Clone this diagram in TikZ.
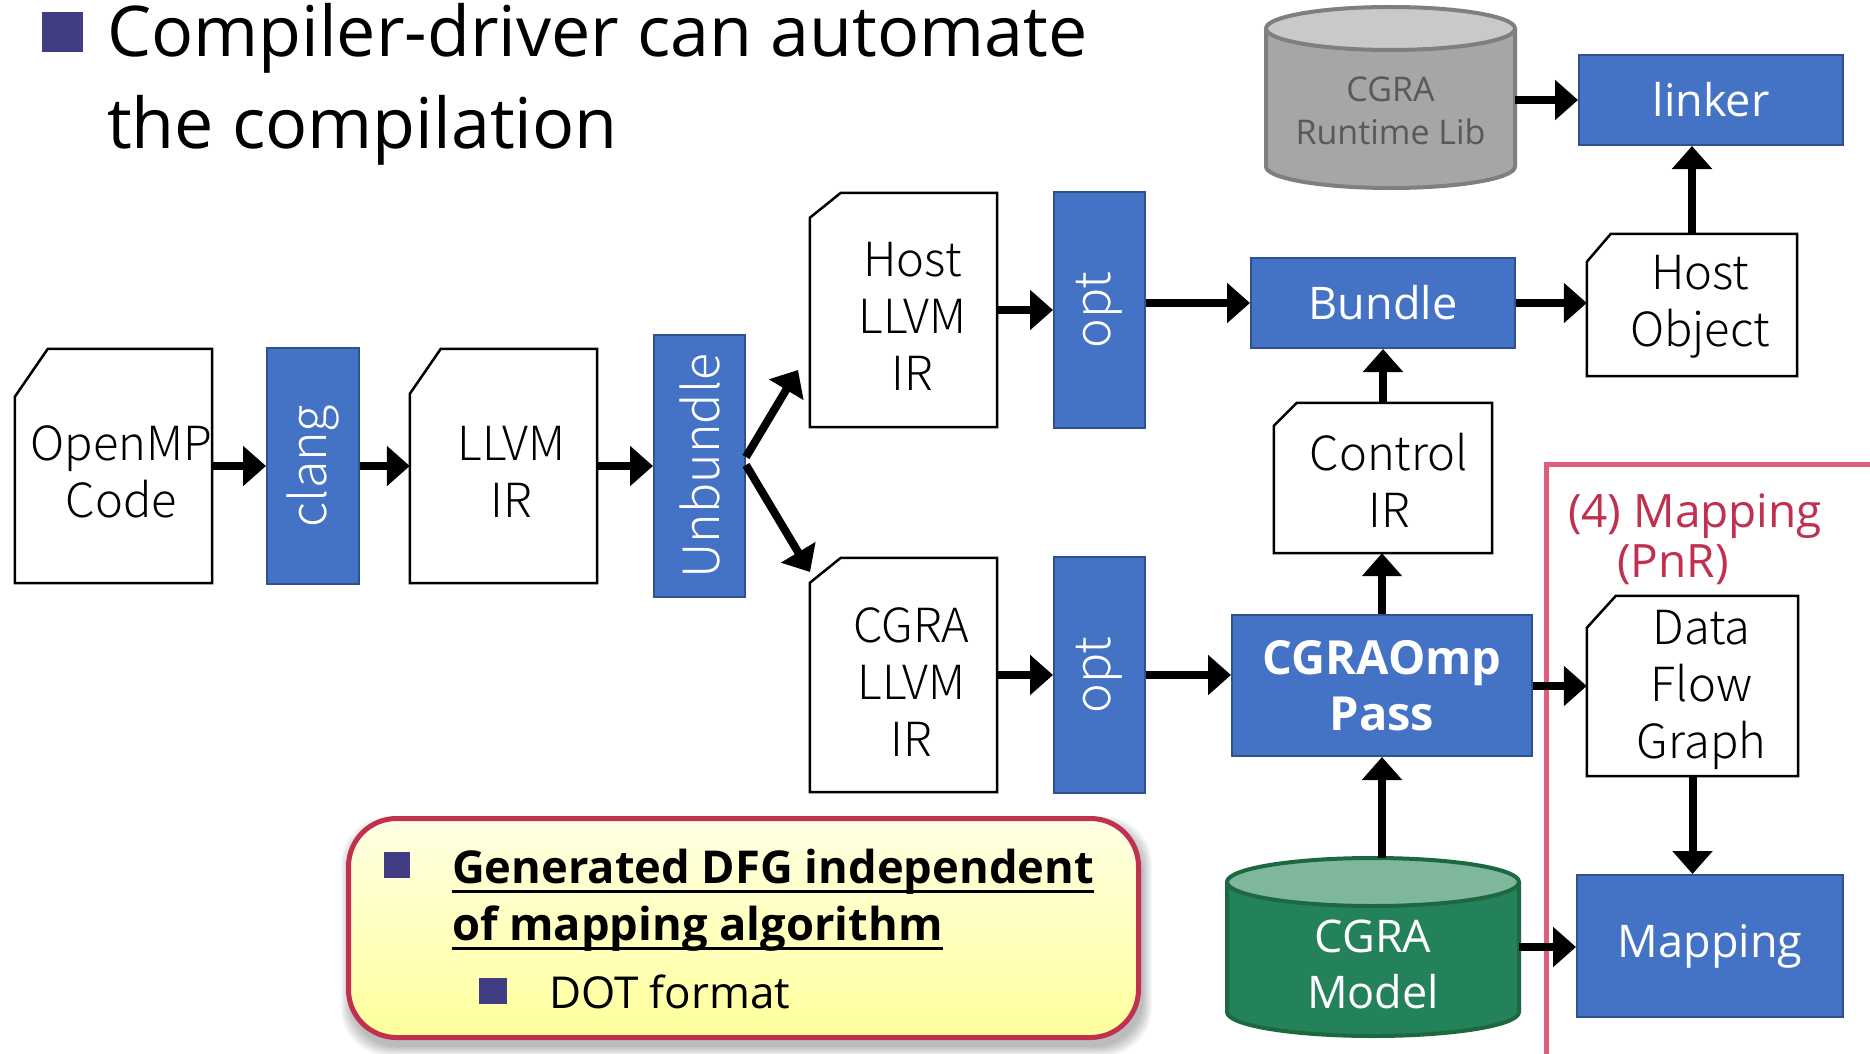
\documentclass[tikz,border=0pt]{standalone}
\usepackage{fontspec}
\usepackage{graphicx}
\setmainfont{Open Sans}
\newfontfamily\docfont{Noto Sans CJK JP Light}
\usetikzlibrary{arrows.meta,calc}

\definecolor{procblue}{HTML}{4472C4}
\definecolor{procedge}{HTML}{2F528F}
\definecolor{bulletcol}{HTML}{403D82}
\definecolor{crimson}{HTML}{C0304F}
\definecolor{pinkline}{HTML}{DF5E7B}
\definecolor{modelbody}{HTML}{24825A}
\definecolor{modeltop}{HTML}{7EB79C}
\definecolor{modeledge}{HTML}{1E6840}
\definecolor{libbody}{HTML}{A6A6A6}
\definecolor{libtop}{HTML}{C9C9C9}
\definecolor{libedge}{HTML}{7F7F7F}
\definecolor{libtext}{HTML}{595959}
\definecolor{noteTop}{HTML}{FFFFE3}
\definecolor{noteBot}{HTML}{FFFF9C}

% outline of a document sheet with a clipped top-left corner
\newcommand\docframe[3]{%
  \draw[docline] ($(#1.north west)+(0,#3)$) -- ($(#1.north west)+(#2,0)$)
    -- (#1.north east) -- (#1.south east) -- (#1.south west) -- cycle;}

\begin{document}
\begin{tikzpicture}[x=1pt,y=-1pt,
  proc/.style={draw=procedge, line width=2pt, fill=procblue, text=white, inner sep=0pt},
  doc/.style={inner sep=0pt},
  doctext/.style={inner sep=0pt, align=center, font=\docfont\fontsize{47}{57}\selectfont},
  docline/.style={draw=black, line width=2.5pt, line join=miter},
  vlabel/.style={font=\docfont\fontsize{50}{57}\selectfont},
  hlabel/.style={font=\fontsize{45}{54}\selectfont},
  arr/.style={line width=8pt, -{Triangle[length=23pt,width=39pt]}},
  plain/.style={inner sep=0pt, outer sep=0pt}
]
\fill[white] (0,0) rectangle (1870,1054);
\useasboundingbox (0,0) rectangle (1870,1054);

% ---------- heading ----------
\fill[bulletcol] (42,12) rectangle (83,52);
\node[plain, anchor=base west, font=\fontsize{70}{90}\selectfont] (t1) at (107,57) {Compiler-driver can automate};
\node[plain, anchor=base west, font=\fontsize{70}{90}\selectfont] (t2) at (107,148) {the compilation};

% ---------- mapping region ----------
\draw[pinkline, line width=5pt] (1870,464.5) -- (1546.5,464.5) -- (1546.5,1054);
\node[plain, anchor=base, text=crimson, font=\fontsize{46}{54}\selectfont] (pl1) at (1695,527) {(4) Mapping};
\node[plain, anchor=base, text=crimson, font=\fontsize{46}{54}\selectfont] (pl2) at (1673,577) {(PnR)};

% ---------- documents ----------
\node[doc, minimum width=197pt, minimum height=234pt] (openmp) at (113.5,466) {};
\docframe{openmp}{33}{48}
\node[doctext] (openmpT) at ($(openmp.center)+(8,6)$) {OpenMP\\Code};
\node[doc, minimum width=187pt, minimum height=234pt] (llvm) at (503.5,466) {};
\docframe{llvm}{31}{45}
\node[doctext] (llvmT) at ($(llvm.center)+(8,6)$) {LLVM\\IR};
\node[doc, minimum width=187pt, minimum height=234pt] (hostll) at (903.5,310) {};
\docframe{hostll}{31}{25}
\node[doctext] (hostllT) at ($(hostll.center)+(9,6)$) {Host\\LLVM\\IR};
\node[doc, minimum width=187pt, minimum height=234pt] (cgrall) at (903.5,675) {};
\docframe{cgrall}{31}{25}
\node[doctext] (cgrallT) at ($(cgrall.center)+(8,7)$) {CGRA\\LLVM\\IR};
\node[doc, minimum width=218pt, minimum height=150pt] (control) at (1383,478) {};
\docframe{control}{23}{23}
\node[doctext] (controlT) at ($(control.center)+(6,2)$) {Control\\IR};
\node[doc, minimum width=210pt, minimum height=142pt] (hostobj) at (1692,305) {};
\docframe{hostobj}{24}{28}
\node[doctext] (hostobjT) at ($(hostobj.center)+(8,2)$) {Host\\Object};
\node[doc, minimum width=211pt, minimum height=180pt] (dfg) at (1692.5,686) {};
\docframe{dfg}{29}{32}
\node[doctext] (dfgT) at ($(dfg.center)+(9,4)$) {Data\\Flow\\Graph};

% ---------- tools ----------
\node[proc, vlabel, minimum width=92pt, minimum height=236pt] (clang) at (313,466) {\rotatebox{90}{clang}};
\node[proc, vlabel, minimum width=91pt, minimum height=262pt] (unb) at (699.5,466) {\rotatebox{90}{Unbundle}};
\node[proc, vlabel, minimum width=91pt, minimum height=236pt] (opt1) at (1099.5,310) {\rotatebox{90}{opt}};
\node[proc, vlabel, minimum width=91pt, minimum height=236pt] (opt2) at (1099.5,675) {\rotatebox{90}{opt}};
\node[proc, hlabel, minimum width=264pt, minimum height=90pt] (bundle) at (1383,303) {Bundle};
\node[proc, hlabel, minimum width=264pt, minimum height=90pt] (linker) at (1711,100) {linker};
\node[proc, hlabel, minimum width=266pt, minimum height=142pt] (mapping) at (1710,946) {Mapping};
\node[proc, align=center, font=\bfseries\fontsize{47}{56}\selectfont, minimum width=300pt, minimum height=141pt] (omp) at (1382,685.5) {CGRAOmp\\Pass};

% ---------- runtime library store ----------
\fill[libbody] (1266,28.5) -- (1266,166.5) arc[start angle=180,end angle=360,x radius=124.5pt,y radius=21.5pt] -- (1515,28.5) -- cycle;
\draw[libedge, line width=4pt] (1266,28.5) -- (1266,166.5) arc[start angle=180,end angle=360,x radius=124.5pt,y radius=21.5pt] -- (1515,28.5);
\filldraw[fill=libtop, draw=libedge, line width=4pt] (1390.5,28.5) ellipse[x radius=124.5pt, y radius=21.5pt];
\node[plain, minimum width=249pt, minimum height=181pt] (rt) at (1390.5,97.5) {};
\node[plain, align=center, text=libtext, font=\fontsize{34}{43}\selectfont] (rttext) at ($(rt.center)+(0,13)$) {CGRA\\Runtime Lib};

% ---------- CGRA model store ----------
\fill[modelbody] (1227,882) -- (1227,1012) arc[start angle=180,end angle=360,x radius=146pt,y radius=24pt] -- (1519,882) -- cycle;
\draw[modeledge, line width=4pt] (1227,882) -- (1227,1012) arc[start angle=180,end angle=360,x radius=146pt,y radius=24pt] -- (1519,882);
\filldraw[fill=modeltop, draw=modeledge, line width=4pt] (1373,882) ellipse[x radius=146pt, y radius=24pt];
\node[plain, minimum width=292pt, minimum height=178pt] (model) at (1373,947) {};
\node[plain, align=center, text=white, font=\fontsize{45}{56}\selectfont] (modeltext) at ($(model.center)+(0,17)$) {CGRA\\Model};

% ---------- flow ----------
\coordinate (tipH) at (798,370);
\coordinate (tipC) at (810,572);
\draw[arr] (openmp.east) -- (clang.west);
\draw[arr] (clang.east) -- (llvm.west);
\draw[arr] (llvm.east) -- (unb.west);
\draw[arr] ($(unb.east)+(0,-9)$) -- (tipH);
\draw[arr] ($(unb.east)+(0,-1)$) -- (tipC);
\draw[arr] (hostll.east) -- (opt1.west);
\draw[arr] (cgrall.east) -- (opt2.west);
\draw[arr] (opt1.east |- bundle.west) -- (bundle.west);
\draw[arr] (opt2.east) -- (opt2.east -| omp.west);
\draw[arr] (bundle.east) -- (bundle.east -| hostobj.west);
\draw[arr] (linker.west -| rt.east) -- (linker.west);
\draw[arr] (hostobj.north) -- (hostobj.north |- linker.south);
\draw[arr] (control.north) -- (control.north |- bundle.south);
\draw[arr] (omp.north) -- (omp.north |- control.south);
\draw[arr] (omp.south |- model.north) -- (omp.south);
\draw[arr] (omp.east |- dfg.west) -- (dfg.west);
\draw[arr] (dfg.south) -- (dfg.south |- mapping.north);
\draw[arr] (model.east) -- (model.east -| mapping.west);

% ---------- note ----------
\foreach \k in {1,...,8}
  \fill[black, opacity=0.035, rounded corners=48pt]
    (351.5-\k*1.3, 826.5-\k*1.3) rectangle (1141.5+\k*1.3, 1045.5+\k*1.3);
\node[draw=crimson, line width=5pt, rounded corners=48pt, top color=noteTop, bottom color=noteBot,
      minimum width=790pt, minimum height=219pt] (note) at (743.5,928) {};
\fill[bulletcol] (384,852) rectangle (410,878);
\node[plain, anchor=base west, font=\bfseries\fontsize{45.3}{52}\selectfont] (n1) at (452,883) {Generated DFG independent};
\draw[line width=3pt] ($(n1.base west)+(0,8)$) -- ($(n1.base east)+(0,8)$);
\node[plain, anchor=base west, font=\bfseries\fontsize{45.3}{52}\selectfont] (n2) at (452,940) {of mapping algorithm};
\draw[line width=3pt] ($(n2.base west)+(0,8)$) -- ($(n2.base east)+(0,8)$);
\fill[bulletcol] (479,978) rectangle (507,1004);
\node[plain, anchor=base west, font=\fontsize{44}{52}\selectfont] (n3) at (549,1008) {DOT format};
\end{tikzpicture}
\end{document}
